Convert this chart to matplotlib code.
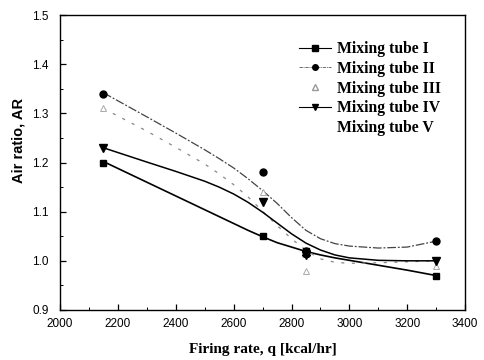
import numpy as np
import matplotlib
matplotlib.use('Agg')
import matplotlib.pyplot as plt
from matplotlib.lines import Line2D
from matplotlib.ticker import MultipleLocator

matplotlib.rcParams['font.family'] = 'sans-serif'
matplotlib.rcParams['font.sans-serif'] = ['Liberation Sans', 'DejaVu Sans']

# measured points
q_pts = [2150, 2700, 2850, 3300]
ar_tube1 = [1.20, 1.05, 1.02, 0.97]
ar_tube2 = [1.34, 1.18, 1.02, 1.04]
ar_tube3 = [1.31, 1.14, 0.98, 0.99]
ar_tube4 = [1.23, 1.12, 1.012, 1.00]
q_tube5 = [2850]
ar_tube5 = [1.016]

# fitted curves
q_fit = [2150, 2300, 2400, 2500, 2550, 2600, 2650, 2700, 2750, 2800, 2850, 2900, 2950, 3000, 3100, 3200, 3300]
fit_tube1 = [1.202, 1.160, 1.132, 1.104, 1.090, 1.076, 1.062, 1.049, 1.037, 1.028, 1.019, 1.012, 1.006, 1.001, 0.991, 0.981, 0.970]
fit_tube2 = [1.342, 1.293, 1.260, 1.226, 1.208, 1.189, 1.167, 1.143, 1.117, 1.088, 1.062, 1.045, 1.035, 1.030, 1.026, 1.028, 1.040]
fit_tube3 = [1.310, 1.264, 1.231, 1.197, 1.177, 1.155, 1.130, 1.101, 1.072, 1.045, 1.021, 1.004, 0.997, 0.995, 0.996, 0.998, 1.000]
fit_tube4 = [1.230, 1.201, 1.182, 1.162, 1.150, 1.136, 1.119, 1.099, 1.077, 1.055, 1.036, 1.022, 1.012, 1.006, 1.001, 1.000, 1.000]

fig = plt.figure(figsize=(4.84, 3.6), dpi=100)
ax = fig.add_axes([0.124, 0.139, 0.837, 0.819])

ax.plot(q_fit, fit_tube1, color='black', lw=1.2)
ax.plot(q_fit, fit_tube2, color='#444444', lw=0.9, linestyle=(0, (7, 1.5, 1.5, 1.5)))
ax.plot(q_fit, fit_tube3, color='#888888', lw=0.9, linestyle=(0, (2.5, 6)))
ax.plot(q_fit, fit_tube4, color='black', lw=1.1)

ax.plot(q_pts, ar_tube1, 's', color='black', ms=5, ls='none')
ax.plot(q_pts, ar_tube2, 'o', color='black', ms=5, ls='none')
ax.plot(q_pts, ar_tube3, '^', mfc='white', mec='#aaaaaa', ms=5, ls='none', mew=0.7)
ax.plot(q_pts, ar_tube4, 'v', color='black', ms=6, ls='none')
ax.plot(q_tube5, ar_tube5, 'X', color='black', ms=6, ls='none')

ax.set_xlim(2000, 3400)
ax.set_ylim(0.9, 1.5)
ax.xaxis.set_major_locator(MultipleLocator(200))
ax.xaxis.set_minor_locator(MultipleLocator(100))
ax.yaxis.set_major_locator(MultipleLocator(0.1))
ax.yaxis.set_minor_locator(MultipleLocator(0.05))
ax.tick_params(which='both', direction='in', labelsize=8.5, top=False, right=False)
ax.tick_params(axis='x', which='major', pad=6)
ax.tick_params(axis='y', which='major', pad=8)
ax.tick_params(which='major', length=4, width=0.9)
ax.tick_params(which='minor', length=2, width=0.7)
for sp in ax.spines.values():
    sp.set_linewidth(1.0)

ax.set_xlabel('Firing rate, q [kcal/hr]', family='Liberation Serif', weight='bold',
              fontsize=11, labelpad=9)
ax.set_ylabel('Air ratio, AR', weight='bold', fontsize=10.5)
ax.yaxis.set_label_coords(-0.086, 0.576)

handles = [
    Line2D([], [], color='black', lw=0.8, marker='s', ms=4),
    Line2D([], [], color='#555555', lw=0.6, ls=(0, (4, 1, 1, 1)), marker='o', ms=4, mfc='black', mec='black'),
    Line2D([], [], color='none', marker='^', ms=4, mfc='white', mec='#999999'),
    Line2D([], [], color='black', lw=0.8, marker='v', ms=5),
    Line2D([], [], color='none'),
]
labels = ['Mixing tube I', 'Mixing tube II', 'Mixing tube III', 'Mixing tube IV', 'Mixing tube V']
ax.legend(handles, labels, loc='upper right', bbox_to_anchor=(0.975, 0.96), frameon=False,
          prop={'family': 'Liberation Serif', 'weight': 'bold', 'size': 11.3},
          handlelength=2.0, handletextpad=0.4, labelspacing=0.24, numpoints=1)

fig.savefig('out.png', dpi=100)
